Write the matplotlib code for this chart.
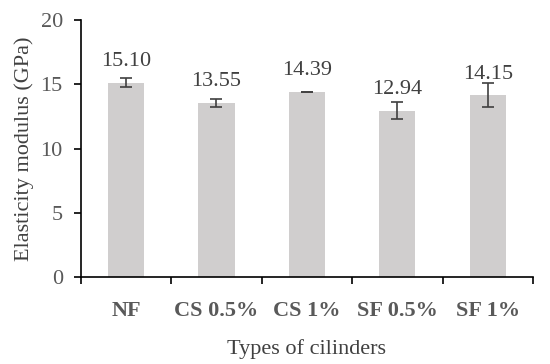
import matplotlib
matplotlib.use("Agg")
import matplotlib.pyplot as plt

# -------------------------- data ---------------------------------------------
categories = ["NF", "CS 0.5%", "CS 1%", "SF 0.5%", "SF 1%"]
modulus = [15.10, 13.55, 14.39, 12.94, 14.15]
errors = [0.35, 0.29, 0.03, 0.68, 0.91]
y_ticks = [0, 5, 10, 15, 20]

BAR_COLOR = "#d0cece"
TEXT_DARK = "#404040"
TICK_GRAY = "#595959"
FS = 16

plt.rcParams["font.family"] = ["Liberation Serif", "DejaVu Serif"]

fig = plt.figure(figsize=(5.5, 3.64), dpi=100)
ax = fig.add_axes([0.147, 0.239, 0.822, 0.706])

x = list(range(len(categories)))
ax.bar(x, modulus, width=0.4, color=BAR_COLOR, zorder=2)
ax.errorbar(x, modulus, yerr=errors, fmt="none", ecolor=TEXT_DARK,
            elinewidth=1.2, capsize=4, capthick=1.2, zorder=3)

for xi, v in zip(x, modulus):
    ax.annotate(f"{v:.2f}", (xi, v), xytext=(0, 12), textcoords="offset points",
                ha="center", va="baseline", fontsize=FS, color=TEXT_DARK)

ax.set_xlim(-0.5, len(categories) - 0.5)
ax.set_ylim(0, 20)
ax.set_yticks(y_ticks)
ax.set_yticklabels([str(t) for t in y_ticks], fontsize=FS, color=TICK_GRAY)

ax.set_xticks(x)
ax.set_xticklabels(categories, fontsize=FS, fontweight="bold", color=TICK_GRAY)
ax.set_xticks([i - 0.5 for i in range(len(categories) + 1)], minor=True)
ax.tick_params(axis="x", which="major", length=0, pad=17)
ax.tick_params(axis="x", which="minor", length=5, width=1.2, color="black")
ax.tick_params(axis="y", length=5, width=1.2, color="black", pad=8)

for side in ("top", "right"):
    ax.spines[side].set_visible(False)
for side in ("left", "bottom"):
    ax.spines[side].set_linewidth(1.2)

ax.set_ylabel("Elasticity modulus (GPa)", fontsize=FS, color=TEXT_DARK, labelpad=5)
ax.set_xlabel("Types of cilinders", fontsize=FS, color=TEXT_DARK, labelpad=13)

fig.savefig("out.png", dpi=100)
